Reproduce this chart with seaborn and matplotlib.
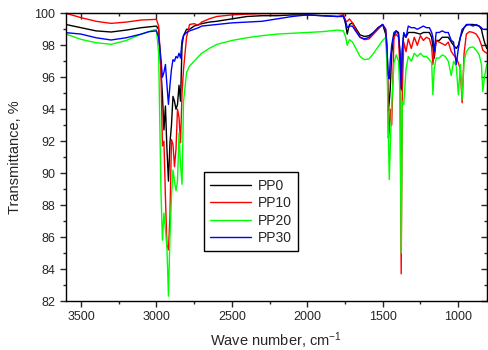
import pandas as pd
import matplotlib
matplotlib.use("Agg")
import matplotlib.pyplot as plt
from matplotlib.ticker import MultipleLocator
import seaborn as sns

# wavenumber grid (cm-1)
wavenumber = [3600, 3500, 3400, 3300, 3200, 3100, 3050, 3000,
              2985, 2970, 2960, 2950, 2940, 2930, 2920, 2910, 2900, 2890,
              2880, 2870, 2860, 2850, 2840, 2830, 2820, 2800,
              2780, 2750, 2720, 2700, 2650, 2600, 2500, 2400, 2300, 2200,
              2100, 2000, 1900, 1800,
              1760, 1745, 1735, 1720, 1700, 1680, 1650, 1620, 1590, 1560,
              1530, 1500, 1480,
              1470, 1462, 1456, 1450, 1440, 1425, 1410, 1395, 1385, 1377,
              1370, 1360,
              1345, 1330, 1310, 1290, 1270, 1250, 1230, 1210, 1190, 1175,
              1167, 1158, 1145, 1125, 1105, 1085, 1065, 1045, 1030, 1012,
              998, 985, 973, 960, 945, 925, 900, 880, 860, 845, 836, 825, 810]

pp0 = [99.3, 99.1, 98.9, 98.83, 98.95, 99.1, 99.15, 99.2,
       99.0, 96.5, 94.9, 92.7, 94.2, 91.5, 89.5, 91.9, 93.0, 94.8,
       94.5, 94.0, 94.3, 95.5, 94.5, 98.0, 98.6, 99.0,
       99.0, 99.2, 99.3, 99.35, 99.45, 99.5, 99.65, 99.8, 99.85, 99.85,
       99.9, 99.9, 99.85, 99.8,
       99.85, 99.3, 98.7, 99.3, 99.4, 99.1, 98.65, 98.55, 98.6, 98.8,
       99.1, 99.3, 98.7,
       97.5, 93.9, 94.5, 95.2, 97.5, 98.6, 98.9, 98.8, 97.5, 95.2,
       97.5, 98.7,
       98.5, 98.8, 98.8, 98.8, 98.75, 98.7, 98.8, 98.8, 98.8, 98.5,
       97.9, 97.2, 98.3, 98.3, 98.5, 98.5, 98.5, 98.2, 98.0, 97.8,
       98.0, 98.5, 98.8, 99.1, 99.25, 99.3, 99.3, 99.25, 99.2, 99.0, 98.6, 98.2, 97.8]

pp10 = [100.0, 99.73, 99.5, 99.37, 99.45, 99.58, 99.6, 99.62,
        99.2, 96.5, 91.7, 92.0, 88.5, 85.5, 85.2, 87.3, 92.1, 91.8,
        90.4, 91.5, 94.0, 93.5, 91.9, 95.0, 96.5, 98.5,
        99.3, 99.35, 99.25, 99.45, 99.65, 99.8, 99.9, 99.95, 99.98, 99.98,
        100.0, 100.0, 100.0, 100.0,
        99.95, 99.5, 99.5, 99.65, 99.4, 99.0, 98.5, 98.35, 98.4, 98.7,
        99.0, 99.3, 99.0,
        98.0, 92.2, 92.6, 94.0, 93.0, 98.5, 98.7, 98.5, 96.5, 83.7,
        95.0, 98.2,
        97.6, 98.4, 97.8, 98.5, 98.0, 98.6, 98.3, 98.5, 98.4, 97.9,
        96.8, 97.5, 98.3, 98.2, 98.1, 98.0, 98.2, 97.6, 97.4, 97.2,
        96.9, 96.5, 94.4, 97.5, 98.7, 98.85, 98.8, 98.7, 98.4, 98.0, 97.7, 97.6, 97.5]

pp20 = [98.7, 98.37, 98.16, 98.06, 98.3, 98.7, 98.85, 99.0,
        97.5, 89.0, 85.8, 87.5, 86.5, 85.3, 82.3, 86.0, 88.5, 90.2,
        89.5, 88.9, 89.5, 92.5, 90.5, 89.3, 94.5, 96.3,
        96.7, 97.0, 97.3, 97.5, 97.8, 98.05, 98.3, 98.47, 98.6, 98.7,
        98.75, 98.8, 98.85, 98.95,
        98.9, 98.5, 98.0, 98.35, 98.2, 97.85, 97.3, 97.1, 97.15, 97.5,
        97.9, 98.3, 98.5,
        96.5, 92.3, 89.6, 91.5, 94.2, 96.9, 97.4, 97.0, 95.0, 85.0,
        94.5, 94.3,
        96.5, 97.3, 97.0, 97.5, 97.3, 97.5, 97.3, 97.3, 97.1, 96.9,
        94.9, 96.5, 97.2, 97.2, 97.4, 97.3, 97.0, 96.1, 97.0, 96.7,
        94.9, 96.8, 94.6, 97.0, 97.6, 97.85, 97.9, 97.7, 97.4, 96.8, 95.1, 96.0, 96.8]

pp30 = [98.79, 98.7, 98.47, 98.33, 98.47, 98.7, 98.85, 98.9,
        98.5, 97.2, 96.0, 96.3, 96.8, 95.5, 94.3, 95.5, 96.5, 97.1,
        97.0, 97.3, 97.2, 97.5, 97.2, 98.3, 98.6, 98.8,
        98.9, 99.0, 99.1, 99.2, 99.25, 99.3, 99.4, 99.45, 99.5, 99.65,
        99.8, 99.9, 99.85, 99.8,
        99.8, 99.5, 99.1, 99.2, 99.2, 98.9, 98.5, 98.4, 98.5, 98.8,
        99.1, 99.3, 99.0,
        97.5, 96.1, 95.9, 97.0, 98.0, 98.8, 98.9, 98.7, 97.5, 95.3,
        97.8, 98.8,
        98.5, 99.2, 99.1, 99.1, 99.0, 99.1, 99.2, 99.1, 99.1, 98.8,
        98.5, 97.6, 98.8, 98.8, 98.9, 98.8, 98.8, 98.3, 98.2, 96.8,
        97.8, 98.5, 99.0, 99.1, 99.3, 99.3, 99.2, 99.3, 99.2, 99.1, 99.0, 99.0, 99.0]

series = {"PP0": pp0, "PP10": pp10, "PP20": pp20, "PP30": pp30}
colors = {"PP0": "#000000", "PP10": "#ff0000", "PP20": "#00ff00", "PP30": "#0000ff"}

df = pd.concat([pd.DataFrame({"wn": wavenumber, "T": v, "sample": k})
                for k, v in series.items()], ignore_index=True)

sns.set_style("ticks")
plt.rcParams["font.family"] = ["Liberation Sans", "DejaVu Sans"]
plt.rcParams["mathtext.fontset"] = "custom"
plt.rcParams["mathtext.rm"] = "Liberation Sans"
plt.rcParams["mathtext.it"] = "Liberation Sans"

fig = plt.figure(figsize=(4.88, 3.5), dpi=100)
ax = fig.add_axes([0.135, 0.14, 0.863, 0.822])

sns.lineplot(data=df, x="wn", y="T", hue="sample", palette=colors,
             sort=False, estimator=None, linewidth=1.0, ax=ax, legend=False)

ax.set_xlim(3600, 808)
ax.set_ylim(82, 100)
ax.xaxis.set_major_locator(MultipleLocator(500))
ax.xaxis.set_minor_locator(MultipleLocator(250))
ax.yaxis.set_major_locator(MultipleLocator(2))
ax.yaxis.set_minor_locator(MultipleLocator(1))
ax.tick_params(which="major", direction="out", length=4, width=1, labelsize=9)
ax.tick_params(which="minor", direction="out", length=2, width=1)

# inward ticks on top and right, no labels
top = ax.secondary_xaxis("top")
top.xaxis.set_major_locator(MultipleLocator(500))
top.xaxis.set_minor_locator(MultipleLocator(250))
top.tick_params(which="both", direction="in", labeltop=False, width=1)
top.tick_params(which="major", length=4)
top.tick_params(which="minor", length=2)
right = ax.secondary_yaxis("right")
right.yaxis.set_major_locator(MultipleLocator(2))
right.yaxis.set_minor_locator(MultipleLocator(1))
right.tick_params(which="both", direction="in", labelright=False, width=1)
right.tick_params(which="major", length=4)
right.tick_params(which="minor", length=2)

for s in ax.spines.values():
    s.set_linewidth(1)
    s.set_color("black")

ax.set_xlabel("Wave number, cm$^{-1}$", fontsize=10.5, labelpad=5)
ax.set_ylabel("Transmittance, %", fontsize=10.5, labelpad=9)

handles = [plt.Line2D([], [], color=colors[k], lw=1.0) for k in series]
leg = ax.legend(handles, list(series), loc="upper left",
                bbox_to_anchor=(0.328, 0.447), borderaxespad=0,
                fontsize=10, frameon=True, fancybox=False, edgecolor="black",
                framealpha=1, handlelength=2.9, handletextpad=0.5,
                borderpad=0.45, labelspacing=0.25)
leg.get_frame().set_linewidth(1)

fig.savefig("out.png", dpi=100)
